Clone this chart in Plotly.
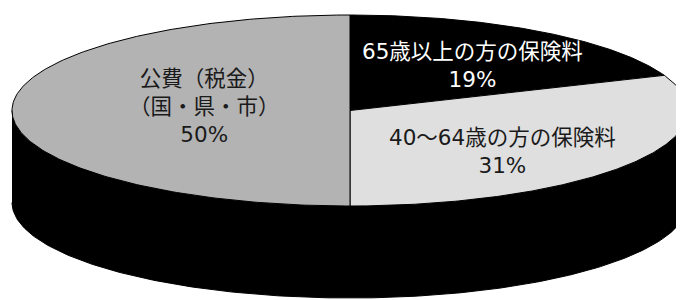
import numpy as np
import plotly.graph_objects as go

# Data
labels = ["65歳以上の方の保険料", "40～64歳の方の保険料", "公費（税金）<br>（国・県・市）"]
values = [19, 31, 50]
colors = ["#000000", "#dfdfdf", "#b3b3b3"]
text_colors = ["#ffffff", "#1a1a1a", "#1a1a1a"]

# Geometry (pixel space of the 684x300 window)
W, H = 684, 300
OFF = 8  # default page body margin
cx, cy = 350, 110.5
rx, ry = 338, 95.5
depth = 92

def ell(theta_deg, dy=0.0):
    t = np.radians(theta_deg)
    return cx + rx * np.cos(t), cy - ry * np.sin(t) + dy

fig = go.Figure()

# Side (front half) in black
th = np.linspace(180, 360, 240)
xt, yt = ell(th)
xb, yb = ell(th[::-1], depth)
fig.add_trace(go.Scatter(x=np.concatenate([xt, xb]), y=np.concatenate([yt, yb]),
                         fill="toself", fillcolor="#000000", mode="lines",
                         line=dict(color="#000000", width=1), hoverinfo="skip",
                         showlegend=False))

# Top slices, starting at 12 o'clock going clockwise
total = sum(values)
start = 90.0
label_pos = {0: (472, 65), 1: (502, 151), 2: (204, 106)}
for i, (lab, v, c) in enumerate(zip(labels, values, colors)):
    sweep = 360.0 * v / total
    a = np.linspace(start, start - sweep, 240)
    xs, ys = ell(a)
    xs = np.concatenate([[cx], xs, [cx]])
    ys = np.concatenate([[cy], ys, [cy]])
    fig.add_trace(go.Scatter(x=xs, y=ys, fill="toself", fillcolor=c, mode="lines",
                             line=dict(color="#000000", width=1), hoverinfo="skip",
                             showlegend=False))
    start -= sweep

# Labels
for i, (lab, v) in enumerate(zip(labels, values)):
    x0, y0 = label_pos[i]
    fig.add_annotation(x=x0, y=y0, text=f"{lab}<br>{v}%", showarrow=False,
                       xanchor="center", yanchor="middle",
                       font=dict(family="DejaVu Sans, Noto Sans CJK JP", size=21.5,
                                 color=text_colors[i]))

fig.update_xaxes(range=[OFF, W], visible=False, fixedrange=True)
fig.update_yaxes(range=[H, OFF], visible=False, fixedrange=True)
fig.update_layout(width=W - OFF, height=H - OFF, margin=dict(l=0, r=0, t=0, b=0),
                  paper_bgcolor="white", plot_bgcolor="white")
fig.write_html("out.html")
